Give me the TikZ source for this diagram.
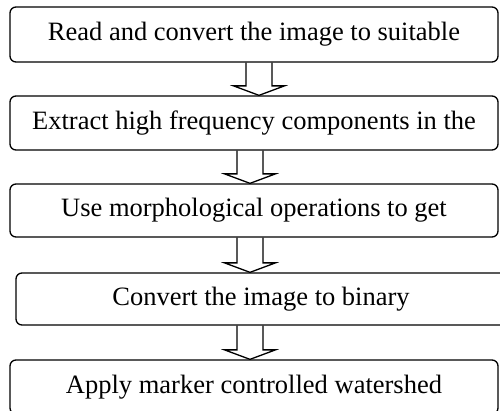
\documentclass[tikz,border=0pt]{standalone}
\usepackage{fontspec}
\setmainfont{Liberation Serif}
\usetikzlibrary{positioning, calc}

\tikzset{
  stepbox/.style={draw, line width=1.3pt, rounded corners=6pt, minimum height=54pt,
    inner sep=0pt, font=\fontsize{26.5}{30}\selectfont},
  flowarrow/.style={draw, line width=1.3pt, line join=miter}
}
% hollow down arrow: from node, to node, x position
\newcommand{\hollowdown}[3]{%
  \draw[flowarrow] ($(#3,0 |- #1.south)+(-13pt,0)$) -- ($(#3,0 |- #2.north)+(-13pt,9.5pt)$)
    -- ++(-12.5pt,0) -- (#3,0 |- #2.north) -- ++(25.5pt,9.5pt) -- ++(-12.5pt,0)
    -- ($(#3,0 |- #1.south)+(13pt,0)$);}

\begin{document}
\begin{tikzpicture}
\useasboundingbox (0,0) rectangle (500pt,-410pt);
% steps
\node[stepbox, minimum width=488pt, minimum height=55pt] (read) at (254pt,-34.5pt) {Read and convert the image to suitable};
\node[stepbox, minimum width=488pt] (extract) at (254pt,-123pt) {Extract high frequency components in the};
\node[stepbox, minimum width=488pt, minimum height=53pt] (morph) at (254pt,-210.5pt) {Use morphological operations to get};
\node[stepbox, minimum width=490pt, minimum height=52pt] (binary) at (261pt,-299pt) {Convert the image to binary};
\node[stepbox, minimum width=488pt] (water) at (254pt,-387pt) {Apply marker controlled watershed};
% arrows
\hollowdown{read}{extract}{259pt}
\hollowdown{extract}{morph}{250pt}
\hollowdown{morph}{binary}{250pt}
\hollowdown{binary}{water}{250pt}
\end{tikzpicture}
\end{document}
